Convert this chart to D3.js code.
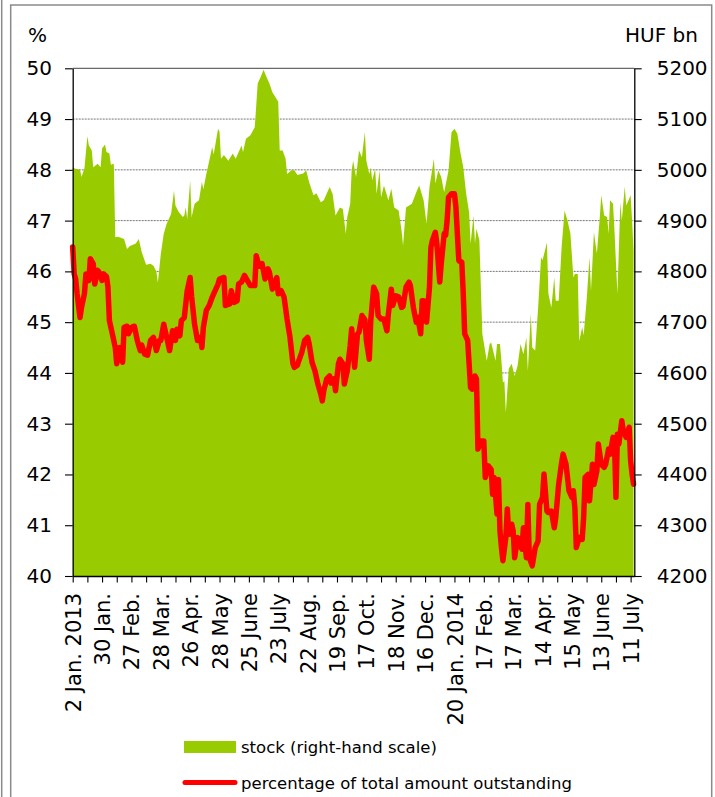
<!DOCTYPE html>
<html>
<head>
<meta charset="utf-8">
<script src="https://cdn.jsdelivr.net/npm/d3@7"></script>
<style>
  html, body { margin: 0; padding: 0; background: #fff; }
  svg { display: block; font-family: "DejaVu Sans", Verdana, sans-serif; }
</style>
</head>
<body>
<svg id="chart" width="715" height="797"></svg>
<script>
// Trading-day labels on the category axis (one every 20 trading days)
const xLabels = ["2 Jan. 2013", "30 Jan.", "27 Feb.", "28 Mar.", "26 Apr.", "28 May",
  "25 June", "23 July", "22 Aug.", "19 Sep.", "17 Oct.", "18 Nov.", "16 Dec.",
  "20 Jan. 2014", "17 Feb.", "17 Mar.", "14 Apr.", "15 May", "13 June", "11 July"];
const labelStep = 20;
const lastDay = 382.5;

const pctTicks = [40, 41, 42, 43, 44, 45, 46, 47, 48, 49, 50];
const stockTicks = [4200, 4300, 4400, 4500, 4600, 4700, 4800, 4900, 5000, 5100, 5200];

// Stock of holdings, HUF bn: [trading day, value]
const stockSeries = [
  [0,5004],[2,5002],[5,5000],[6,4986],[8,5003],[10,5066],[11,5048],[13,5038],[14,5005],
  [17,5012],[19,5005],[20,5042],[22,5050],[23,5035],[25,5032],[26,5010],[28,5012],
  [29,4867],[31,4868],[35,4864],[37,4844],[39,4850],[43,4855],[45,4864],[47,4838],
  [50,4813],[53,4815],[55,4811],[57,4800],[58,4778],[60,4834],[62,4874],[64,4894],
  [67,4913],[69,4959],[70,4930],[72,4918],[75,4907],[76,4910],[77,4926],[78,4903],
  [80,4979],[81,4907],[83,4933],[86,4940],[88,4976],[89,4962],[91,4992],[93,5018],
  [95,5045],[96,5030],[99,5081],[100,5075],[101,5022],[103,5029],[106,5018],[109,5032],
  [111,5022],[115,5048],[116,5035],[118,5061],[121,5068],[124,5084],[126,5170],
  [128,5183],[130,5197],[132,5183],[134,5170],[136,5153],[140,5134],[141,5038],
  [143,5038],[145,5022],[146,4992],[149,4999],[151,4999],[153,4990],[157,4993],
  [159,4999],[161,4976],[164,4950],[166,4954],[169,4936],[171,4940],[175,4966],
  [177,4953],[179,4910],[182,4926],[184,4923],[186,4874],[187,4907],[189,4933],
  [190,4999],[191,5018],[193,4986],[195,5038],[197,5025],[198,5051],[199,5074],
  [200,5018],[202,4992],[203,5005],[204,4979],[206,5002],[207,4953],[209,4999],
  [210,4946],[212,4969],[215,4940],[217,4963],[219,4926],[222,4920],[224,4880],
  [225,4851],[227,4926],[231,4933],[234,4956],[236,4969],[239,4940],[241,4894],
  [243,4966],[246,5022],[247,4973],[249,4999],[251,4986],[253,4956],[256,4999],
  [258,5074],[260,5081],[262,5071],[264,5035],[266,5005],[268,4953],[270,4916],
  [271,4855],[273,4910],[274,4855],[275,4884],[277,4861],[279,4677],[282,4624],
  [284,4657],[285,4660],[288,4624],[289,4657],[291,4657],[292,4624],[293,4581],
  [294,4584],[295,4522],[297,4608],[299,4618],[301,4594],[303,4614],[305,4657],
  [307,4637],[309,4670],[310,4604],[312,4716],[313,4650],[315,4644],[317,4729],
  [319,4828],[320,4822],[323,4857],[324,4756],[326,4729],[328,4788],[329,4742],
  [331,4742],[333,4848],[335,4920],[337,4900],[339,4874],[341,4788],[342,4795],
  [344,4795],[345,4663],[347,4690],[348,4674],[350,4742],[352,4828],[353,4762],
  [355,4877],[357,4835],[359,4907],[360,4950],[362,4910],[364,4907],[365,4874],
  [366,4940],[368,4933],[369,4880],[371,4756],[373,4936],[374,4900],[376,4967],
  [377,4930],[380,4950],[381,4900],[382,4841]
];

// Share of total amount outstanding, %: [trading day, value]
const pctSeries = [
  [0,46.48],[1,45.95],[2,45.85],[3,45.56],[5,45.09],[6,45.29],[8,45.56],[9,45.95],
  [11,45.82],[12,46.25],[14,46.15],[15,45.75],[17,46.02],[18,45.98],[20,45.82],
  [21,45.95],[23,45.90],[24,45.69],[25,45.03],[27,44.77],[29,44.50],[30,44.18],
  [32,44.50],[34,44.21],[35,44.90],[37,44.92],[38,44.77],[40,44.90],[42,44.92],
  [44,44.64],[46,44.44],[47,44.55],[49,44.37],[51,44.35],[53,44.64],[55,44.70],
  [57,44.44],[59,44.64],[60,44.64],[62,44.96],[64,44.70],[66,44.44],[68,44.83],
  [70,44.64],[71,44.86],[73,44.73],[74,45.03],[76,45.09],[78,45.62],[80,45.88],
  [81,45.50],[83,44.96],[85,44.64],[87,44.70],[88,44.50],[89,44.90],[91,45.23],
  [93,45.33],[95,45.49],[97,45.62],[99,45.75],[100,45.85],[103,45.88],[104,45.33],
  [107,45.36],[108,45.62],[110,45.39],[112,45.42],[113,45.75],[115,45.79],[117,45.92],
  [119,45.82],[121,45.72],[124,45.72],[125,46.31],[127,46.10],[129,46.15],[131,45.85],
  [133,46.05],[134,45.98],[136,45.65],[139,45.88],[140,45.56],[142,45.62],[144,45.49],
  [146,45.06],[148,44.70],[150,44.18],[151,44.11],[153,44.15],[154,44.24],[156,44.40],
  [158,44.64],[160,44.70],[161,44.58],[163,44.21],[165,44.04],[167,43.78],[169,43.58],
  [170,43.45],[171,43.65],[173,43.88],[175,43.94],[176,43.80],[178,43.88],[179,43.65],
  [181,44.18],[182,44.27],[184,44.18],[185,43.78],[187,44.04],[189,44.54],[190,44.87],
  [192,44.11],[194,44.77],[195,44.80],[197,45.13],[199,45.05],[200,44.64],[202,44.27],
  [203,45.03],[205,45.69],[207,45.56],[208,45.13],[210,45.06],[212,45.06],[214,44.83],
  [215,45.16],[217,45.65],[218,45.33],[220,45.52],[222,45.50],[224,45.29],[225,45.31],
  [227,45.69],[229,45.79],[230,45.72],[232,45.29],[234,45.00],[235,45.10],[237,44.77],
  [238,45.42],[239,45.42],[241,45.00],[243,45.69],[244,46.48],[245,46.61],[247,46.77],
  [248,46.55],[250,45.79],[251,46.15],[253,46.74],[254,46.71],[255,47.00],[256,47.46],
  [258,47.53],[260,47.53],[261,47.26],[263,46.21],[265,46.18],[266,45.56],[267,44.77],
  [269,44.64],[271,43.71],[272,43.68],[274,43.94],[275,43.88],[276,42.50],[278,42.66],
  [280,42.66],[281,41.94],[283,42.17],[285,42.10],[286,41.61],[287,41.94],[289,41.22],
  [290,41.90],[291,40.89],[292,40.56],[293,40.30],[295,40.76],[296,41.32],[297,40.82],
  [299,41.02],[300,40.89],[301,40.36],[303,40.76],[304,40.63],[306,40.53],[307,40.95],
  [309,40.36],[310,41.41],[311,40.36],[313,40.20],[315,40.56],[317,40.69],[318,41.41],
  [320,41.55],[321,42.01],[323,41.28],[324,41.25],[326,41.28],[328,40.95],[329,41.15],
  [331,41.81],[333,42.23],[334,42.40],[336,42.20],[338,41.68],[340,41.55],[341,41.68],
  [342,41.35],[343,40.56],[345,40.76],[347,40.72],[348,41.15],[349,41.94],[351,42.00],
  [352,41.48],[354,42.20],[355,41.80],[357,42.07],[358,42.60],[360,42.20],[362,42.14],
  [363,42.20],[365,42.50],[366,42.40],[368,42.73],[369,42.66],[370,41.55],[371,42.79],
  [372,42.60],[374,43.06],[375,42.86],[377,42.73],[379,42.93],[380,42.27],[381,42.00],
  [382,41.81]
];

const svg = d3.select("#chart");
const plot = { left: 72.7, right: 634.3, top: 68.3, bottom: 576 };

const x = d3.scaleLinear().domain([0, lastDay]).range([plot.left, plot.right]);
const yPct = d3.scaleLinear().domain([40, 50]).range([plot.bottom, plot.top]);
const yStock = d3.scaleLinear().domain([4200, 5200]).range([plot.bottom, plot.top]);

// outer frame
const frame = svg.append("g").attr("stroke", "#8a8a8a").attr("stroke-width", 1.5).attr("fill", "none");
frame.append("line").attr("x1", 1.7).attr("x2", 1.7).attr("y1", 0).attr("y2", 797);
frame.append("path").attr("d", "M10.7,797V5H711.7V797");

// horizontal gridlines
svg.append("g")
  .selectAll("line")
  .data(pctTicks.slice(1))
  .join("line")
  .attr("x1", plot.left).attr("x2", plot.right)
  .attr("y1", d => yPct(d)).attr("y2", d => yPct(d))
  .attr("stroke", d => d === 50 ? "#444" : "#777")
  .attr("stroke-width", 1)
  .attr("stroke-dasharray", d => d === 50 ? null : "2,1");

// stock area on the right-hand scale
const area = d3.area()
  .x(d => x(d[0]))
  .y0(plot.bottom)
  .y1(d => yStock(d[1]));
svg.append("path")
  .datum(stockSeries)
  .attr("fill", "#99cc00")
  .attr("d", area);

// percentage line on the left-hand scale
const line = d3.line()
  .x(d => x(d[0]))
  .y(d => yPct(d[1]));
svg.append("path")
  .datum(pctSeries)
  .attr("fill", "none")
  .attr("stroke", "#ff0000")
  .attr("stroke-width", 5.5)
  .attr("stroke-linejoin", "round")
  .attr("stroke-linecap", "round")
  .attr("d", line);

// axes
function styleAxis(g) {
  g.select(".domain").attr("stroke", "#000").attr("stroke-width", 1.3);
  g.selectAll(".tick line").attr("stroke", "#000").attr("stroke-width", 1.1);
  g.selectAll(".tick text").attr("fill", "#000").style("font-size", "20px")
    .style("font-family", "'DejaVu Sans', Verdana, sans-serif");
}

svg.append("g")
  .attr("transform", `translate(${plot.left},0)`)
  .call(d3.axisLeft(yPct).tickValues(pctTicks).tickFormat(d3.format("d"))
    .tickSize(7.7).tickSizeOuter(0).tickPadding(13))
  .call(styleAxis);

svg.append("g")
  .attr("transform", `translate(${plot.right},0)`)
  .call(d3.axisRight(yStock).tickValues(stockTicks).tickFormat(d3.format("d"))
    .tickSize(7.4).tickSizeOuter(0).tickPadding(15))
  .call(styleAxis);

const xAxis = svg.append("g")
  .attr("transform", `translate(0,${plot.bottom})`)
  .call(d3.axisBottom(x)
    .tickValues(d3.range(0, 381, 10))
    .tickSize(6.5).tickSizeOuter(0)
    .tickFormat(d => d % labelStep === 0 ? xLabels[d / labelStep] : ""))
  .call(styleAxis);
xAxis.selectAll(".tick text")
  .style("font-size", "21px")
  .attr("transform", "rotate(-90)")
  .attr("x", -17)
  .attr("y", 0)
  .attr("dy", "0.36em")
  .attr("text-anchor", "end");

// axis unit captions
svg.append("text").attr("x", 28).attr("y", 42).text("%")
  .style("font-size", "20px").attr("fill", "#000");
svg.append("text").attr("x", 698).attr("y", 42).attr("text-anchor", "end").text("HUF bn")
  .style("font-size", "20px").attr("fill", "#000");

// legend
const legend = svg.append("g").style("font-size", "16.5px");
legend.append("rect").attr("x", 184).attr("y", 741).attr("width", 52).attr("height", 12)
  .attr("fill", "#99cc00");
legend.append("text").attr("x", 241).attr("y", 753).text("stock (right-hand scale)");
legend.append("line").attr("x1", 185).attr("x2", 235).attr("y1", 782.5).attr("y2", 782.5)
  .attr("stroke", "#ff0000").attr("stroke-width", 5).attr("stroke-linecap", "round");
legend.append("text").attr("x", 241).attr("y", 789).text("percentage of total amount outstanding");
</script>
</body>
</html>
